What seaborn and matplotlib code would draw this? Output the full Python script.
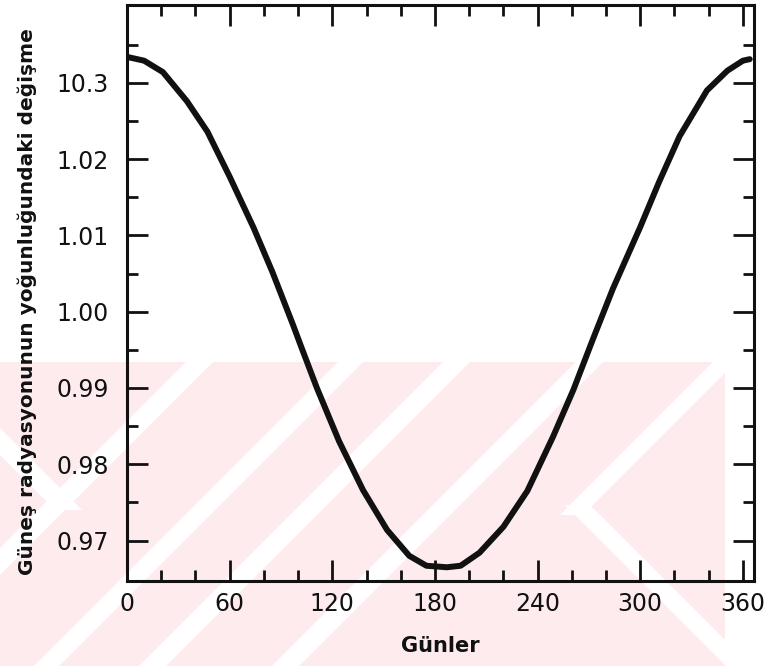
import numpy as np
import pandas as pd
import matplotlib
matplotlib.use("Agg")
import matplotlib.pyplot as plt
from matplotlib.patches import Rectangle, Polygon
from matplotlib.ticker import FixedLocator
import seaborn as sns

sns.set_theme(style="ticks")
plt.rcParams['font.family'] = ['DejaVu Sans']

# values
days = [0, 10, 21, 35, 47, 60, 74, 85, 97, 102, 111, 124, 138, 152, 165, 175,
        187, 195, 206, 220, 234, 249, 261, 272, 284, 300, 311, 323, 339, 351,
        360, 364]
ratio = [1.0334, 1.0329, 1.0314, 1.0276, 1.0236, 1.0177, 1.0110, 1.0052,
         0.9983, 0.9953, 0.9900, 0.9830, 0.9766, 0.9714, 0.9680, 0.9667,
         0.9665, 0.9667, 0.9684, 0.9718, 0.9765, 0.9836, 0.9898, 0.9962,
         1.0030, 1.0111, 1.0170, 1.0230, 1.0290, 1.0316, 1.0329, 1.0331]

x_ticks = [0, 60, 120, 180, 240, 300, 360]
y_ticks = [0.97, 0.98, 0.99, 1.00, 1.01, 1.02, 1.03]
y_tick_labels = ['0.97', '0.98', '0.99', '1.00', '1.01', '1.02', '10.3']

df = pd.DataFrame({'gun': days, 'oran': ratio})

fig = plt.figure(figsize=(7.73, 6.66), dpi=100)

# background: pink watermark from the scanned thesis page
bg = fig.add_axes([0, 0, 1, 1], zorder=0)
bg.set_xlim(0, 773)
bg.set_ylim(666, 0)
bg.axis('off')
pink = Rectangle((0, 362), 725, 310, facecolor='#fdebee', edgecolor='none')
bg.add_patch(pink)


def band(a, b, kind):
    if kind == '/':
        pts = [(a, 0), (b, 0), (b - 900, 900), (a - 900, 900)]
    else:
        pts = [(a, 0), (b, 0), (b + 900, 900), (a + 900, 900)]
    return pts


stripes = [((548, 575), '/', None), ((700, 725), '/', None),
           ((805, 832), '/', None), ((938, 965), '/', None),
           ((1075, 1098), '/', (0, 515)), ((-455, -428), '\\', (420, 510)),
           ((60, 85), '\\', (505, 700))]
for (a, b), kind, ylim in stripes:
    poly = Polygon(band(a, b, kind), facecolor='white', edgecolor='none')
    bg.add_patch(poly)
    if ylim is None:
        poly.set_clip_path(pink)
    else:
        clip = Rectangle((0, ylim[0]), 725, ylim[1] - ylim[0], transform=bg.transData)
        poly.set_clip_path(clip)

ax = fig.add_axes([127 / 773, 85 / 666, 627 / 773, 576 / 666], zorder=1)
ax.patch.set_alpha(0)

sns.lineplot(data=df, x='gun', y='oran', ax=ax, color='#111111', linewidth=4.3,
             estimator=None, sort=True)
ax.lines[0].set_solid_joinstyle('round')

ax.set_xlim(0, 366.5)
ax.set_ylim(0.9647, 1.0402)
ax.set_xticks(x_ticks)
ax.xaxis.set_minor_locator(FixedLocator([t for t in range(20, 361, 20) if t % 60]))
ax.set_yticks(y_ticks)
ax.set_yticklabels(y_tick_labels)
ax.yaxis.set_minor_locator(FixedLocator([0.975, 0.985, 0.995, 1.005, 1.015, 1.025, 1.035]))

ax.tick_params(which='both', direction='in', top=True, right=True,
               colors='#111111', width=2)
ax.tick_params(which='major', length=15)
ax.tick_params(which='minor', length=8)
ax.tick_params(axis='x', which='major', labelsize=17, pad=8)
ax.tick_params(axis='y', which='major', labelsize=17, pad=13)

for s in ax.spines.values():
    s.set_linewidth(2.2)
    s.set_color('#111111')

ax.set_xlabel('Günler', fontsize=15, fontweight='bold', color='#111111', labelpad=14)
ax.set_ylabel('Güneş radyasyonunun yoğunluğundaki değişme', fontsize=14.5,
              fontweight='bold', color='#111111')
ax.yaxis.set_label_coords(-0.1435, 0.486)

fig.savefig('out.png', dpi=100)
